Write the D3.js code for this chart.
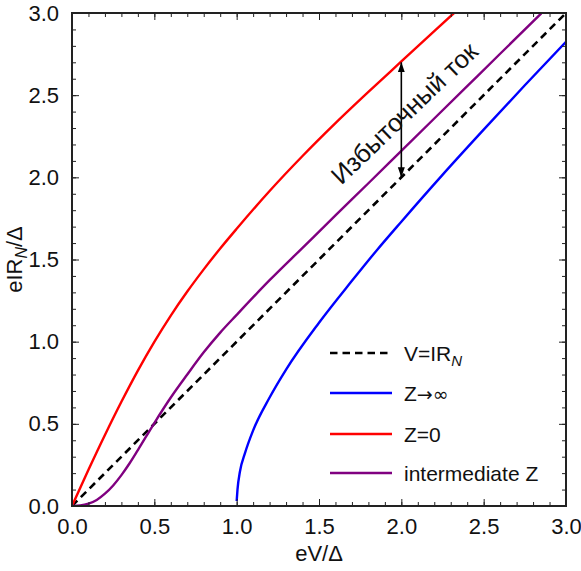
<!DOCTYPE html>
<html>
<head>
<meta charset="utf-8">
<script src="https://cdn.jsdelivr.net/npm/d3@7"></script>
<style>
  html, body { margin: 0; padding: 0; background: #fff; }
  svg { display: block; font-family: "Liberation Sans", Arial, sans-serif; }
</style>
</head>
<body>
<svg id="chart" width="581" height="571"></svg>
<script>
// ---- data ----
const xTickValues = [0, 0.5, 1.0, 1.5, 2.0, 2.5, 3.0];
const yTickValues = [0, 0.5, 1.0, 1.5, 2.0, 2.5, 3.0];

const ohmicV = [0, 3];
const ohmicI = [0, 3];

const blueV = [1.0, 1.005, 1.02, 1.05, 1.1, 1.2, 1.3, 1.5, 1.7, 1.85, 2.0, 2.25, 2.5, 2.75, 3.0];
const blueI = [0.03, 0.10, 0.21, 0.32, 0.46, 0.66, 0.83, 1.115, 1.37, 1.555, 1.73, 2.015, 2.29, 2.56, 2.825];

const redV = [0, 0.1, 0.2, 0.3, 0.4, 0.5, 0.6, 0.7, 0.8, 0.9, 1.0, 1.2, 1.4, 1.6, 1.8, 2.0, 2.2, 2.32];
const redI = [0, 0.22, 0.432, 0.634, 0.824, 0.999, 1.159, 1.305, 1.44, 1.567, 1.687, 1.917, 2.13, 2.33, 2.52, 2.705, 2.89, 3.0];

const purpleV = [0, 0.05, 0.1, 0.15, 0.2, 0.25, 0.3, 0.35, 0.4, 0.5, 0.6, 0.7, 0.8, 0.9, 1.0, 1.2, 1.4, 1.6, 1.8, 2.0, 2.2, 2.4, 2.6, 2.85];
const purpleI = [0, 0.003, 0.014, 0.037, 0.075, 0.125, 0.188, 0.26, 0.34, 0.505, 0.66, 0.80, 0.935, 1.055, 1.163, 1.374, 1.571, 1.768, 1.964, 2.161, 2.358, 2.555, 2.752, 2.998];

const arrowV = 2.0;
const arrowTopI = 2.70;
const arrowBottomI = 2.0;

const legendLabels = ["V=IR", "Z\u2192\u221E", "Z=0", "intermediate Z"];
const annotationText = "Избыточный ток";

// ---- layout ----
const svg = d3.select("#chart");
const pL = 72, pR = 566, pT = 13, pB = 506;

const x = d3.scaleLinear().domain([0, 3]).range([pL, pR]);
const y = d3.scaleLinear().domain([0, 3]).range([pB, pT]);

const frameColor = "#222";

const defs = svg.append("defs");
defs.append("clipPath").attr("id", "plotclip")
  .append("rect").attr("x", pL).attr("y", pT)
  .attr("width", pR - pL).attr("height", pB - pT);

["start", "end"].forEach(k => {
  defs.append("marker")
    .attr("id", "arrow-" + k)
    .attr("viewBox", "0 0 10 10")
    .attr("refX", 10).attr("refY", 5)
    .attr("markerWidth", 10).attr("markerHeight", 10)
    .attr("markerUnits", "userSpaceOnUse")
    .attr("orient", k === "start" ? "auto-start-reverse" : "auto")
    .append("path").attr("d", "M0,1.5 L10,5 L0,8.5 Z").attr("fill", "#000");
});

const plot = svg.append("g").attr("clip-path", "url(#plotclip)");

const line = d3.line()
  .x(d => x(d[0])).y(d => y(d[1]))
  .curve(d3.curveMonotoneX);

const zip = (a, b) => a.map((v, i) => [v, b[i]]);

plot.append("path")
  .datum(zip(ohmicV, ohmicI))
  .attr("d", d3.line().x(d => x(d[0])).y(d => y(d[1])))
  .attr("fill", "none").attr("stroke", "#000")
  .attr("stroke-width", 2.6).attr("stroke-dasharray", "7.5,5");

plot.append("path").datum(zip(blueV, blueI)).attr("d", line)
  .attr("fill", "none").attr("stroke", "#0000ff").attr("stroke-width", 2.4);
plot.append("path").datum(zip(redV, redI)).attr("d", line)
  .attr("fill", "none").attr("stroke", "#ff0000").attr("stroke-width", 2.4);
plot.append("path").datum(zip(purpleV, purpleI)).attr("d", line)
  .attr("fill", "none").attr("stroke", "#800080").attr("stroke-width", 2.4);

svg.append("line")
  .attr("x1", x(arrowV)).attr("x2", x(arrowV))
  .attr("y1", y(arrowTopI)).attr("y2", y(arrowBottomI))
  .attr("stroke", "#000").attr("stroke-width", 1.6)
  .attr("marker-start", "url(#arrow-start)")
  .attr("marker-end", "url(#arrow-end)");

svg.append("text")
  .attr("transform", "translate(404,113) rotate(-43.7)")
  .attr("text-anchor", "middle").attr("dy", "0.36em")
  .attr("font-size", 25.5).attr("fill", "#111")
  .text(annotationText);

// ---- axes / frame ----
const fmt = d3.format(".1f");
const minor = d3.range(0, 3.0001, 0.1);

function drawTicks(axisGen, transform) {
  const g = svg.append("g").attr("transform", transform).call(axisGen);
  g.select(".domain").remove();
  g.selectAll("line").attr("stroke", frameColor).attr("stroke-width", 1);
  return g;
}

drawTicks(d3.axisBottom(x).tickValues(minor).tickSize(-4).tickFormat(""), `translate(0,${pB})`);
drawTicks(d3.axisTop(x).tickValues(minor).tickSize(-4).tickFormat(""), `translate(0,${pT})`);
drawTicks(d3.axisLeft(y).tickValues(minor).tickSize(-4).tickFormat(""), `translate(${pL},0)`);
drawTicks(d3.axisRight(y).tickValues(minor).tickSize(-4).tickFormat(""), `translate(${pR},0)`);

const gx = drawTicks(d3.axisBottom(x).tickValues(xTickValues).tickSize(-7).tickPadding(12).tickFormat(fmt), `translate(0,${pB})`);
gx.selectAll("text").attr("font-size", 22).attr("fill", "#111")
  .attr("font-family", "Liberation Sans, Arial, sans-serif");
const gy = drawTicks(d3.axisLeft(y).tickValues(yTickValues).tickSize(-7).tickPadding(13).tickFormat(fmt), `translate(${pL},0)`);
gy.selectAll("text").attr("font-size", 22).attr("fill", "#111")
  .attr("font-family", "Liberation Sans, Arial, sans-serif");
drawTicks(d3.axisTop(x).tickValues(xTickValues).tickSize(-7).tickFormat(""), `translate(0,${pT})`);
drawTicks(d3.axisRight(y).tickValues(yTickValues).tickSize(-7).tickFormat(""), `translate(${pR},0)`);

svg.append("rect").attr("x", pL).attr("y", pT)
  .attr("width", pR - pL).attr("height", pB - pT)
  .attr("fill", "none").attr("stroke", frameColor).attr("stroke-width", 2);

svg.append("text").attr("x", (pL + pR) / 2).attr("y", 561)
  .attr("text-anchor", "middle").attr("font-size", 22).attr("fill", "#111")
  .text("eV/\u0394");

const yl = svg.append("text")
  .attr("transform", `translate(22,${(pT + pB) / 2}) rotate(-90)`)
  .attr("text-anchor", "middle").attr("font-size", 22).attr("fill", "#111");
yl.append("tspan").text("eIR");
yl.append("tspan").attr("font-size", 16).attr("font-style", "italic").attr("dy", 5).text("N");
yl.append("tspan").attr("dy", -5).text("/\u0394");

// ---- legend ----
const legendY = [353, 393, 434, 473];
const legendStroke = ["#000", "#0000ff", "#ff0000", "#800080"];
const lg = svg.append("g");
legendLabels.forEach((lab, i) => {
  lg.append("line").attr("x1", 330).attr("x2", 392)
    .attr("y1", legendY[i]).attr("y2", legendY[i])
    .attr("stroke", legendStroke[i]).attr("stroke-width", 2.6)
    .attr("stroke-dasharray", i === 0 ? "7.5,5" : null);
  const t = lg.append("text").attr("x", 404).attr("y", legendY[i]).attr("dy", "0.36em")
    .attr("font-size", 21).attr("fill", "#111");
  if (i === 1) {
    t.append("tspan").text("Z");
    t.append("tspan").attr("font-family", "DejaVu Sans").attr("font-size", 19).text("\u2192\u221E");
  } else {
    t.text(lab);
  }
  if (i === 0) {
    t.append("tspan").attr("font-size", 15).attr("font-style", "italic").attr("dy", 5).text("N");
  }
});
</script>
</body>
</html>
